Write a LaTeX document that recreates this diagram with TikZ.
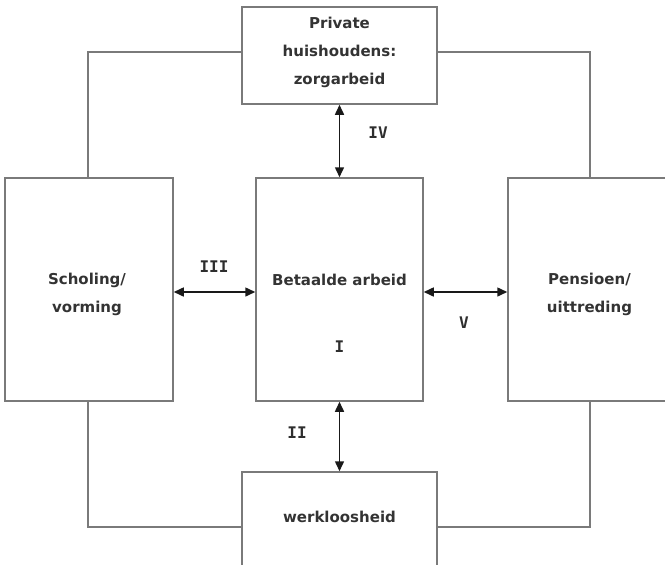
\documentclass[tikz,border=0pt]{standalone}
\usepackage{fontspec}
\setmainfont{DejaVu Sans}
\newfontfamily\numfont{DejaVu Sans Mono}
\usetikzlibrary{arrows.meta}
\begin{document}
\begin{tikzpicture}[x=1pt,y=-1pt,
  box/.style={draw=black!52,line width=1.5pt,fill=none,inner sep=0pt},
  lnk/.style={draw=black!52,line width=1.4pt},
  tip/.tip={Triangle[length=10pt,width=9pt]},
  arr/.style={draw=black!90,line width=1.5pt,tip-tip},
  txt/.style={font=\fontsize{15}{28}\selectfont\bfseries,text=black!80,align=center,inner sep=0pt},
  num/.style={font=\fontsize{16}{20}\selectfont\numfont\bfseries,text=black!82,inner sep=0pt}]
\useasboundingbox (0,0) rectangle (665,565);
\clip (0,0) rectangle (665,565);
% boxes
\node[box,minimum width=195pt,minimum height=97pt] (top) at (339.5,55.5) {};
\node[box,minimum width=168pt,minimum height=223pt] (left) at (89,289.5) {};
\node[box,minimum width=167pt,minimum height=223pt] (center) at (339.5,289.5) {};
\node[box,minimum width=164pt,minimum height=223pt] (right) at (590,289.5) {};
\node[box,minimum width=195pt,minimum height=120pt] (bottom) at (339.5,532) {};
% texts
\node[txt] (toptext) at (339.5,52) {Private\\huishoudens:\\zorgarbeid};
\node[txt] (lefttext) at (87,294) {Scholing/\\vorming};
\node[txt] (centertext) at (339.5,280) {Betaalde arbeid};
\node[txt] (righttext) at (589.5,294) {Pensioen/\\uittreding};
\node[txt] (bottomtext) at (339.5,517) {werkloosheid};
% outer links
\coordinate (tl) at (88,52);
\coordinate (tr) at (590,52);
\coordinate (bl) at (88,527);
\coordinate (br) at (590,527);
\draw[lnk] (top.west |- tl) -- (tl) -- (left.north -| tl);
\draw[lnk] (top.east |- tr) -- (tr) -- (right.north -| tr);
\draw[lnk] (left.south -| bl) -- (bl) -- (bottom.west |- bl);
\draw[lnk] (right.south -| br) -- (br) -- (bottom.east |- br);
% arrows
\coordinate (ya) at (0,292);
\draw[arr] (left.east |- ya) -- (center.west |- ya);
\draw[arr] (center.east |- ya) -- (right.west |- ya);
\draw[arr] (top.south) -- (center.north);
\draw[arr] (center.south) -- (bottom.north);
% roman numerals
\node[num] (nIII) at (214,267) {III};
\node[num] (nIV) at (378,133) {IV};
\node[num] (nV) at (464,323) {V};
\node[num] (nII) at (297,433) {II};
\node[num] (nI) at (339.5,347) {I};
\end{tikzpicture}
\end{document}
